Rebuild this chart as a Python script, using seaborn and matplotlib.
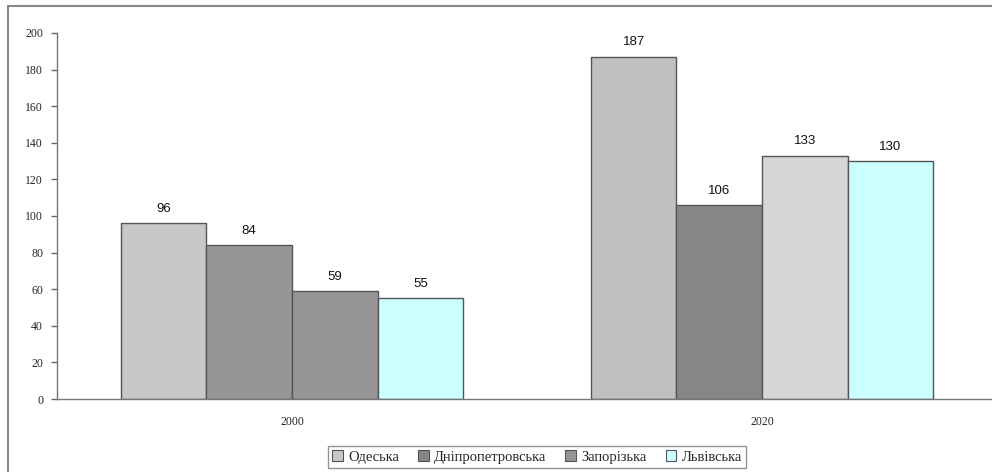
import matplotlib
matplotlib.use("Agg")
import matplotlib.pyplot as plt
from matplotlib.patches import Patch
from matplotlib.lines import Line2D
import seaborn as sns
import pandas as pd

years = ["2000", "2020"]
regions = ["Одеська", "Дніпропетровська", "Запорізька", "Львівська"]
values_2000 = [96, 84, 59, 55]
values_2020 = [187, 106, 133, 130]
y_ticks = [0, 20, 40, 60, 80, 100, 120, 140, 160, 180, 200]

# styles
bar_colors = {
    "2000": ["#c8c8c8", "#969696", "#969696", "#ccffff"],
    "2020": ["#c0c0c0", "#868686", "#d6d6d6", "#ccffff"],
}
legend_colors = ["#c8c8c8", "#868686", "#969696", "#ccffff"]

rows = []
for r, v in zip(regions, values_2000):
    rows.append({"year": "2000", "region": r, "value": v})
for r, v in zip(regions, values_2020):
    rows.append({"year": "2020", "region": r, "value": v})
df = pd.DataFrame(rows)

sns.set_theme(style="white")
plt.rcParams["font.family"] = ["Liberation Sans", "DejaVu Sans"]

fig = plt.figure(figsize=(9.92, 4.72), dpi=100)
ax = fig.add_axes([57 / 992, (472 - 399) / 472, (997 - 57) / 992, (399 - 33) / 472])

sns.barplot(data=df, x="year", y="value", hue="region", order=years,
            hue_order=regions, palette=legend_colors, width=0.728,
            edgecolor="#555555", linewidth=1.0, saturation=1, ax=ax, legend=False)

for i, cont in enumerate(ax.containers):
    for j, bar in enumerate(cont):
        bar.set_facecolor(bar_colors[years[j]][i])
    ax.bar_label(cont, padding=6, fontsize=9.5, color="#111111",
                 fontfamily="Liberation Sans")

ax.set_xlim(-0.5, 1.5)
ax.set_ylim(0, 200)
ax.set_yticks(y_ticks)
ax.set_yticklabels([str(t) for t in y_ticks], fontfamily="Liberation Serif", fontsize=8.5)
ax.set_xticks([0, 1])
ax.set_xticklabels(years, fontfamily="Liberation Serif", fontsize=8.5)
ax.set_xticks([-0.5, 0.5, 1.5], minor=True)
ax.tick_params(axis="x", which="major", length=0, pad=12)
ax.tick_params(axis="x", which="minor", length=4, width=1, color="#666666", direction="out")
ax.tick_params(axis="y", length=4, width=1, color="#666666", direction="out", pad=6, left=True)
ax.set_xlabel("")
ax.set_ylabel("")
for s in ["top", "right"]:
    ax.spines[s].set_visible(False)
for s in ["left", "bottom"]:
    ax.spines[s].set_color("#777777")
    ax.spines[s].set_linewidth(1.0)

handles = [Patch(facecolor=c, edgecolor="#555555", linewidth=0.8, label=r)
           for c, r in zip(legend_colors, regions)]
leg = fig.legend(handles=handles, loc="center", bbox_to_anchor=(537 / 992, (472 - 457) / 472),
                 ncol=4, frameon=True, fancybox=False, prop={"family": "Liberation Serif", "size": 10.5},
                 handlelength=0.75, handleheight=0.75, handletextpad=0.35, columnspacing=1.3,
                 borderpad=0.3, borderaxespad=0, edgecolor="#777777")
leg.get_frame().set_linewidth(1.0)

# outer chart-area border (left and top visible)
fig.add_artist(Line2D([8 / 992, 8 / 992], [0, 1 - 6 / 472], transform=fig.transFigure,
                      color="#888888", linewidth=1.5))
fig.add_artist(Line2D([8 / 992, 1], [1 - 6 / 472, 1 - 6 / 472], transform=fig.transFigure,
                      color="#888888", linewidth=1.5))

fig.savefig("out.png", dpi=100)
